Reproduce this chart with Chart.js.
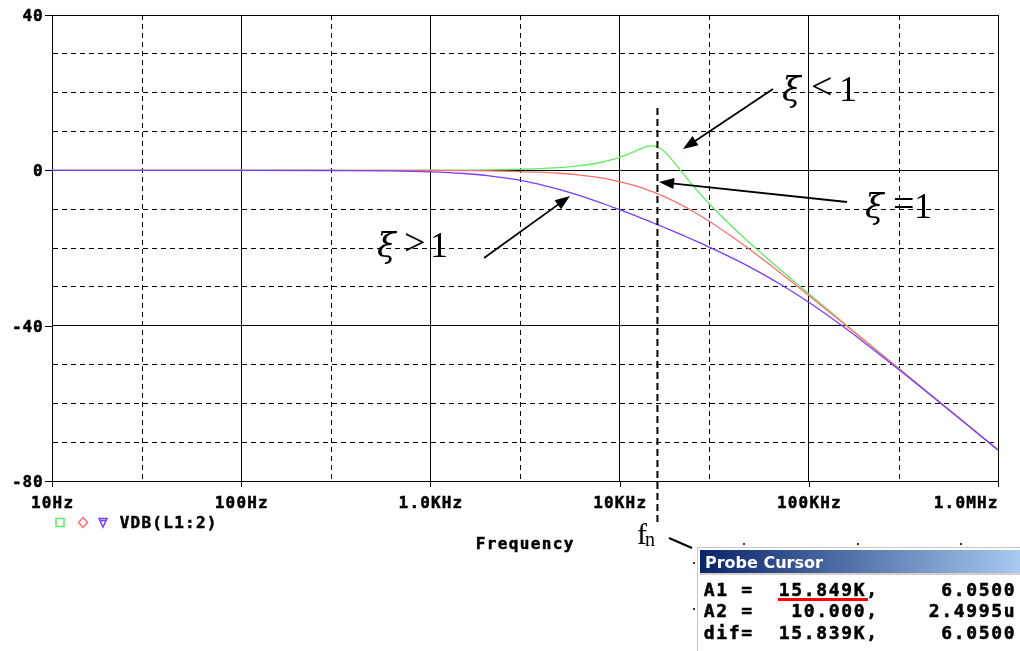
<!DOCTYPE html>
<html>
<head>
<meta charset="utf-8">
<title>VDB(L1:2)</title>
<script src="https://cdn.jsdelivr.net/npm/chart.js@4.4.0/dist/chart.umd.min.js"></script>
<style>
  html, body { margin: 0; padding: 0; background: #fff; }
  canvas { display: block; }
</style>
</head>
<body>
<canvas id="bode" width="1020" height="651"></canvas>
<script>
// sweep frequencies (Hz)
var FREQ = [10, 100, 300, 600, 1000, 1500, 2000, 3000, 4000, 5000, 6000, 7000, 8000, 9000,
    10000, 11000, 12000, 13000, 14000, 14800, 15000, 15849, 16000, 17000, 18000, 20000,
    22000, 25000, 30000, 40000, 50000, 70000, 100000, 150000, 200000, 300000, 500000,
    700000, 1000000];

// VDB(L1:2) in dB, one trace per damping case
var VDB_UNDER = [0, 0, 0, 0.01, 0.03, 0.07, 0.12, 0.28, 0.49, 0.78, 1.14, 1.57, 2.08, 2.68,
    3.36, 4.10, 4.88, 5.60, 6.14, 6.30, 6.29, 6.05, 5.93, 5.08, 3.91, 1.26,
    -1.27, -4.53, -8.79, -14.83, -19.17, -25.41, -31.81, -38.96, -43.99, -51.06, -59.95,
    -65.80, -72.00];
var VDB_CRIT = [0, 0, 0, -0.01, -0.03, -0.08, -0.14, -0.31, -0.54, -0.82, -1.16, -1.55, -1.97, -2.43,
    -2.91, -3.42, -3.94, -4.47, -5.01, -5.45, -5.56, -6.02, -6.10, -6.65, -7.20, -8.27,
    -9.33, -10.85, -13.22, -17.35, -20.79, -26.24, -32.22, -39.14, -44.10, -51.11, -59.97,
    -65.81, -72.00];
var VDB_OVER = [0, 0, -0.04, -0.14, -0.38, -0.81, -1.36, -2.61, -3.93, -5.18, -6.35, -7.42, -8.40, -9.31,
    -10.13, -10.90, -11.62, -12.29, -12.91, -13.39, -13.50, -13.98, -14.06, -14.59, -15.10, -16.04,
    -16.91, -18.09, -19.83, -22.74, -25.17, -29.19, -33.98, -40.04, -44.63, -51.36, -60.06,
    -65.86, -72.03];

var X_TICKS = [10, 30, 100, 300, 1000, 3000, 10000, 30000, 100000, 300000, 1000000];
var X_LABELS = ['10Hz', '100Hz', '1.0KHz', '10KHz', '100KHz', '1.0MHz'];
var Y_TICKS = [40, 30, 20, 10, 0, -10, -20, -30, -40, -50, -60, -70, -80];
var Y_LABELS = [40, 0, -40, -80];

// probe cursor readout
var CURSOR_FREQ = 15849;
var PROBE_ROWS = [
    'A1 =  15.849K,     6.0500',
    'A2 =   10.000,    2.4995u',
    'dif=  15.839K,     6.0500'
];

var GREEN = '#62ea62';
var RED = '#ff6e6e';
var PURPLE = '#7a3cff';
var MONO = '"DejaVu Sans Mono", "Liberation Mono", monospace';
var SERIF = '"Liberation Serif", "DejaVu Serif", serif';

function toPoints(values) {
    var pts = [];
    for (var i = 0; i < FREQ.length; i++) {
        pts.push({x: FREQ[i], y: values[i]});
    }
    return pts;
}

function isDecade(v) {
    var l = Math.log10(v);
    return Math.abs(l - Math.round(l)) < 1e-6;
}

// fixed-pitch text, heavy like the probe's bitmap font
function pitchText(ctx, str, x, y, pitch) {
    ctx.textAlign = 'center';
    ctx.lineWidth = 0.5;
    ctx.strokeStyle = ctx.fillStyle;
    for (var i = 0; i < str.length; i++) {
        ctx.fillText(str[i], x + i * pitch + pitch / 2, y);
        ctx.strokeText(str[i], x + i * pitch + pitch / 2, y);
    }
}

function arrow(ctx, x1, y1, x2, y2) {
    var a = Math.atan2(y2 - y1, x2 - x1);
    var len = 15, w = 5.5;
    ctx.beginPath();
    ctx.moveTo(x1, y1);
    ctx.lineTo(x2 - Math.cos(a) * len * 0.7, y2 - Math.sin(a) * len * 0.7);
    ctx.stroke();
    ctx.beginPath();
    ctx.moveTo(x2, y2);
    ctx.lineTo(x2 - Math.cos(a) * len + Math.sin(a) * w, y2 - Math.sin(a) * len - Math.cos(a) * w);
    ctx.lineTo(x2 - Math.cos(a) * len - Math.sin(a) * w, y2 - Math.sin(a) * len + Math.cos(a) * w);
    ctx.closePath();
    ctx.fill();
}

function xi(ctx, x, y, op, opX, oneX) {
    ctx.textAlign = 'left';
    ctx.font = 'italic 34px "DejaVu Serif", serif';
    ctx.fillText('\u03BE', x, y);
    ctx.font = '38px ' + SERIF;
    ctx.fillText(op, opX, y - 2);
    ctx.font = '36px ' + SERIF;
    ctx.fillText('1', oneX, y);
}

var paper = {
    id: 'paper',
    beforeDraw: function(chart) {
        var c = chart.ctx;
        c.save();
        c.fillStyle = '#fff';
        c.fillRect(0, 0, chart.width, chart.height);
        c.restore();
    }
};

var overlay = {
    id: 'overlay',
    afterDraw: function(chart) {
        var c = chart.ctx;
        var xs = chart.scales.x, ys = chart.scales.y;
        var area = chart.chartArea;
        var i, px, py, start;

        c.save();
        c.strokeStyle = '#000';
        c.fillStyle = '#000';
        c.lineWidth = 1;

        // tick marks on the labelled grid lines
        c.beginPath();
        for (i = 0; i < Y_LABELS.length; i++) {
            py = Math.round(ys.getPixelForValue(Y_LABELS[i])) + 0.5;
            c.moveTo(area.left - 7, py);
            c.lineTo(area.left, py);
        }
        for (i = 0; i < X_TICKS.length; i++) {
            if (!isDecade(X_TICKS[i])) continue;
            px = Math.round(xs.getPixelForValue(X_TICKS[i])) + 0.5;
            c.moveTo(px, area.bottom);
            c.lineTo(px, area.bottom + 6);
        }
        c.stroke();

        // axis labels
        c.font = 'bold 16px ' + MONO;
        for (i = 0; i < Y_LABELS.length; i++) {
            var s = String(Y_LABELS[i]);
            py = ys.getPixelForValue(Y_LABELS[i]);
            pitchText(c, s, area.left - 9 - s.length * 10.5, py + 6, 10.5);
        }
        var decades = X_TICKS.filter(isDecade);
        for (i = 0; i < decades.length; i++) {
            var lab = X_LABELS[i];
            px = xs.getPixelForValue(decades[i]);
            start = px - lab.length * 10.8 / 2;
            if (start + lab.length * 10.8 > area.right) start = area.right - lab.length * 10.8;
            pitchText(c, lab, start, 508, 10.8);
        }
        pitchText(c, 'Frequency', 475, 549, 11);

        // trace legend
        c.lineWidth = 1.5;
        c.strokeStyle = GREEN;
        c.strokeRect(56, 518.5, 8, 8);
        c.strokeStyle = RED;
        c.beginPath();
        c.moveTo(83, 517.5); c.lineTo(87.5, 522.5); c.lineTo(83, 527.5); c.lineTo(78.5, 522.5);
        c.closePath();
        c.stroke();
        c.strokeStyle = PURPLE;
        c.beginPath();
        c.moveTo(99, 518.5); c.lineTo(107, 518.5); c.lineTo(103, 527);
        c.closePath();
        c.stroke();
        c.beginPath();
        c.moveTo(100, 520.5); c.lineTo(106, 520.5);
        c.stroke();
        c.fillStyle = '#000';
        c.font = 'bold 16px ' + MONO;
        pitchText(c, 'VDB(L1:2)', 119, 528, 10.9);

        // cursor line at fn
        px = xs.getPixelForValue(CURSOR_FREQ);
        c.strokeStyle = '#000';
        c.lineWidth = 2;
        c.setLineDash([7, 4]);
        c.beginPath();
        c.moveTo(px, 108);
        c.lineTo(px, 522);
        c.stroke();
        c.setLineDash([]);

        // damping annotations
        c.fillStyle = '#000';
        c.lineWidth = 1.8;
        arrow(c, 773, 89, 683, 149);
        arrow(c, 847, 202, 659, 182);
        arrow(c, 484, 258, 570, 196);
        xi(c, 782, 101, '<', 811, 839);
        xi(c, 865, 218, '=', 893, 914);
        xi(c, 377, 257, '>', 404, 430);

        c.font = '30px ' + SERIF;
        c.textAlign = 'left';
        c.fillText('f', 637, 544);
        c.font = '20px ' + SERIF;
        c.fillText('n', 645, 546);
        c.lineWidth = 2;
        c.beginPath();
        c.moveTo(669, 538);
        c.lineTo(692, 548);
        c.stroke();

        // probe cursor window
        c.fillStyle = '#fff';
        c.fillRect(694, 543, 326, 108);
        c.fillStyle = '#333';
        [743, 857, 960].forEach(function(dx) { c.fillRect(dx, 543, 2, 2); });
        [562, 608].forEach(function(dy) { c.fillRect(693, dy, 2, 2); });
        c.fillStyle = '#c8c8c8';
        c.fillRect(697, 547, 1, 104);
        c.fillRect(697, 547, 323, 1);
        var g = c.createLinearGradient(700, 0, 1020, 0);
        g.addColorStop(0, '#0a246a');
        g.addColorStop(1, '#a6caf0');
        c.fillStyle = g;
        c.fillRect(700, 550, 320, 23);
        c.fillStyle = '#fff';
        c.font = 'bold 16px "DejaVu Sans", sans-serif';
        c.textAlign = 'left';
        c.fillText('Probe Cursor', 705, 568);
        c.fillStyle = '#d4d0c8';
        c.fillRect(700, 573, 320, 2);
        c.fillStyle = '#000';
        c.font = 'bold 18px ' + MONO;
        var rowBase = [596, 617, 639];
        for (i = 0; i < PROBE_ROWS.length; i++) {
            pitchText(c, PROBE_ROWS[i], 703, rowBase[i], 12.5);
        }
        c.fillStyle = '#ff0000';
        c.fillRect(778, 598, 90, 3);

        c.restore();
    }
};

var gridDash = function(major) {
    return function(ctx) {
        if (!ctx.tick) return [];
        return major(ctx.tick.value) ? [] : [5, 4];
    };
};

var context = document.getElementById('bode').getContext('2d');
var chart = new Chart(context, {
    type: 'line',
    data: {
        datasets: [
            {label: 'over', data: toPoints(VDB_OVER), borderColor: PURPLE, order: 0},
            {label: 'critical', data: toPoints(VDB_CRIT), borderColor: RED, order: 1},
            {label: 'under', data: toPoints(VDB_UNDER), borderColor: GREEN, order: 2}
        ]
    },
    options: {
        responsive: false,
        animation: false,
        devicePixelRatio: 1,
        layout: {padding: {left: 52, top: 15, right: 22, bottom: 170}},
        plugins: {legend: {display: false}, tooltip: {enabled: false}},
        elements: {
            point: {radius: 0},
            line: {borderWidth: 1.3, cubicInterpolationMode: 'monotone', fill: false}
        },
        scales: {
            x: {
                type: 'logarithmic',
                min: 10,
                max: 1000000,
                afterBuildTicks: function(scale) {
                    scale.ticks = X_TICKS.map(function(v) { return {value: v}; });
                },
                ticks: {display: false, autoSkip: false},
                grid: {color: '#000', lineWidth: 1, drawTicks: false},
                border: {display: true, color: '#000', width: 1, dash: gridDash(isDecade)}
            },
            y: {
                type: 'linear',
                min: -80,
                max: 40,
                afterBuildTicks: function(scale) {
                    scale.ticks = Y_TICKS.map(function(v) { return {value: v}; });
                },
                ticks: {display: false, autoSkip: false},
                grid: {color: '#000', lineWidth: 1, drawTicks: false},
                border: {display: true, color: '#000', width: 1, dash: gridDash(function(v) { return v % 40 === 0; })}
            }
        }
    },
    plugins: [paper, overlay]
});
</script>
</body>
</html>
